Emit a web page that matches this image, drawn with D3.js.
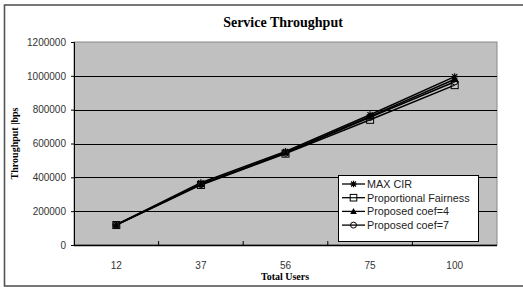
<!DOCTYPE html>
<html><head><meta charset="utf-8">
<script src="https://cdn.jsdelivr.net/npm/d3@7"></script>
<style>body{margin:0;background:#fff}svg{display:block}</style>
</head><body>
<svg id="c" width="523" height="287"></svg>
<script>
const categories = ["12","37","56","75","100"];
const maxCir = [120000, 368000, 553000, 770000, 995000];
const propFair = [118000, 355000, 540000, 740000, 945000];
const coef4 = [120000, 360000, 545000, 760000, 980000];
const coef7 = [119000, 358000, 543000, 755000, 965000];
const yTicks = [0,200000,400000,600000,800000,1000000,1200000];
const seriesNames = ["MAX CIR","Proportional Fairness","Proposed coef=4","Proposed coef=7"];
const seriesData = [maxCir, propFair, coef4, coef7];
const markers = ["star","square","triangle","circle"];

const svg = d3.select("#c");
const L=74, R=497, T=42, B=245;
// outer frame
svg.append("rect").attr("x",4.5).attr("y",5).attr("width",540).attr("height",281)
  .attr("fill","#fff").attr("stroke","#555").attr("stroke-width",1.6);

const x = d3.scaleBand().domain(categories).range([L,R]);
const y = d3.scaleLinear().domain([0,1200000]).range([B,T]);

svg.append("rect").attr("x",L).attr("y",T).attr("width",R-L).attr("height",B-T)
  .attr("fill","#c0c0c0").attr("stroke","#888").attr("stroke-width",1);

// gridlines
svg.append("g").selectAll("line").data(yTicks.filter(d=>d>0 && d<1200000)).join("line")
  .attr("x1",L).attr("x2",R).attr("y1",d=>Math.round(y(d))+0.5).attr("y2",d=>Math.round(y(d))+0.5)
  .attr("stroke","#000").attr("stroke-width",1);

// y axis
const ya = svg.append("g").attr("transform",`translate(${L},0)`)
  .call(d3.axisLeft(y).tickValues(yTicks).tickSize(3).tickPadding(5).tickFormat(d3.format("d")));
ya.select(".domain").attr("stroke","#000");
ya.selectAll("text").attr("font-family","Liberation Sans, Arial, sans-serif").attr("font-size",10).attr("fill","#333");

// x axis
const xa = svg.append("g").attr("transform",`translate(0,${B})`);
xa.append("line").attr("x1",L).attr("x2",R).attr("y1",0.5).attr("y2",0.5).attr("stroke","#000").attr("stroke-width",1.3);
xa.selectAll("line.t").data(categories.slice(1)).join("line").attr("class","t")
  .attr("x1",d=>x(d)).attr("x2",d=>x(d)).attr("y1",0).attr("y2",-4).attr("stroke","#000");
xa.selectAll("text").data(categories).join("text")
  .attr("x",d=>x(d)+x.bandwidth()/2).attr("y",24).attr("text-anchor","middle")
  .attr("font-family","Liberation Sans, Arial, sans-serif").attr("font-size",10).attr("fill","#333").text(d=>d);

// titles
svg.append("text").attr("x",283).attr("y",27).attr("text-anchor","middle")
  .attr("font-family","Liberation Serif, Times New Roman, serif").attr("font-weight","bold").attr("font-size",14).text("Service Throughput");
svg.append("text").attr("x",285).attr("y",280).attr("text-anchor","middle")
  .attr("font-family","Liberation Serif, Times New Roman, serif").attr("font-weight","bold").attr("font-size",10).text("Total Users");
svg.append("text").attr("transform",`translate(18,${(T+B)/2}) rotate(-90)`).attr("text-anchor","middle")
  .attr("font-family","Liberation Serif, Times New Roman, serif").attr("font-weight","bold").attr("font-size",10).text("Throughput |bps");

function drawMarker(g, type, cx, cy, s){
  if(type==="star"){
    const r=s;
    g.append("path").attr("d",`M${cx-r},${cy}H${cx+r}M${cx},${cy-r}V${cy+r}M${cx-r*0.75},${cy-r*0.75}L${cx+r*0.75},${cy+r*0.75}M${cx-r*0.75},${cy+r*0.75}L${cx+r*0.75},${cy-r*0.75}`)
      .attr("stroke","#000").attr("stroke-width",1.2).attr("fill","none");
  } else if(type==="square"){
    g.append("rect").attr("x",cx-s).attr("y",cy-s).attr("width",2*s).attr("height",2*s)
      .attr("fill","#fff").attr("fill-opacity",0.15).attr("stroke","#000").attr("stroke-width",1);
  } else if(type==="triangle"){
    g.append("path").attr("d",`M${cx},${cy-s}L${cx+s},${cy+s*0.8}L${cx-s},${cy+s*0.8}Z`).attr("fill","#000");
  } else {
    g.append("circle").attr("cx",cx).attr("cy",cy).attr("r",s*0.9).attr("fill","none").attr("stroke","#000").attr("stroke-width",1);
  }
}

const line = d3.line().x((d,i)=>x(categories[i])+x.bandwidth()/2).y(d=>y(d));
const plot = svg.append("g");
seriesData.forEach(s=>{
  plot.append("path").attr("d",line(s)).attr("fill","none").attr("stroke","#000").attr("stroke-width",1.5);
});
seriesData.forEach((s,k)=>{
  s.forEach((v,i)=>drawMarker(plot, markers[k], x(categories[i])+x.bandwidth()/2, y(v), 3.5));
});

// legend
const lg = svg.append("g");
lg.append("rect").attr("x",338.5).attr("y",175.5).attr("width",140).attr("height",66)
  .attr("fill","#fff").attr("stroke","#000").attr("stroke-width",1);
seriesNames.forEach((n,k)=>{
  const yy = 184 + k*13.7;
  lg.append("line").attr("x1",342).attr("x2",365).attr("y1",yy).attr("y2",yy).attr("stroke","#000").attr("stroke-width",1.3);
  drawMarker(lg, markers[k], 353.5, yy, 3.3);
  lg.append("text").attr("x",367).attr("y",yy+3.8).attr("font-family","Liberation Sans, Arial, sans-serif")
    .attr("font-size",10.8).attr("fill","#222").text(n);
});
</script>
</body></html>
